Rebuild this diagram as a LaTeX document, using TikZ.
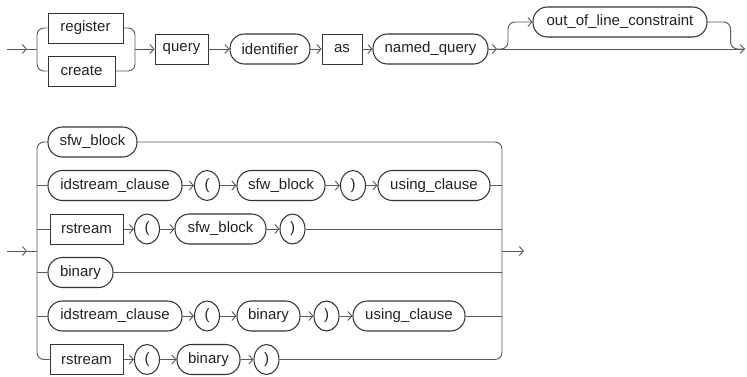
\documentclass[tikz,border=0pt]{standalone}
\usepackage{fontspec}
\setmainfont{Liberation Sans}
\usetikzlibrary{arrows.meta,shapes.geometric}
\definecolor{linegray}{HTML}{5A5A5A}
\definecolor{boxgray}{HTML}{333333}
\definecolor{txtgray}{HTML}{222222}
\begin{document}
\begin{tikzpicture}[x=1pt,y=-1pt,
  every node/.style={font=\fontsize{15}{18}\selectfont, text=txtgray},
  kw/.style={draw=boxgray, line width=0.95pt, rectangle, minimum height=30pt, inner sep=0pt},
  term/.style={draw=boxgray, line width=1.05pt, rectangle, rounded corners=14.5pt, minimum height=30pt, inner sep=0pt},
  paren/.style={draw=boxgray, line width=1.05pt, ellipse, minimum width=25pt, minimum height=30pt, inner sep=0pt},
  conn/.style={draw=linegray, line width=0.95pt},
  arr/.style={-{Straight Barb[length=4pt,width=9pt,line width=0.95pt]}},
  curvy/.style={rounded corners=7pt}]
\useasboundingbox (0,0) rectangle (747,377);

% ---------- top diagram ----------
\coordinate (s1) at (7,49);
\coordinate (a1) at (27,49);
\coordinate (lb1) at (37,49);
\coordinate (rb1) at (135,49);
\coordinate (f1) at (497,49);
\coordinate (e1) at (745,49);

\node[kw, minimum width=75pt] (register) at (85.5,28) {register};
\node[kw, minimum width=67pt] (create) at (81.5,71) {create};
\node[kw, minimum width=53pt] (query) at (181.5,49) {query};
\node[term, minimum width=80pt] (identifier) at (270,49) {identifier};
\node[kw, minimum width=40pt] (as) at (342,49) {as};
\node[term, minimum width=115pt] (namedq) at (430.5,49) {named\_query};
\node[term, minimum width=174pt] (ool) at (620,22) {out\_of\_line\_constraint};

\draw[conn, arr] (s1) -- (a1);
\draw[conn] (a1) -- (lb1);
\draw[conn, curvy] (lb1) |- (register.west);
\draw[conn, curvy] (lb1) |- (create.west);
\draw[conn, curvy] (register.east) -| (rb1);
\draw[conn, curvy] (create.east) -| (rb1);
\draw[conn, arr] (rb1) -- (query.west);
\draw[conn, arr] (query.east) -- (identifier.west);
\draw[conn, arr] (identifier.east) -- (as.west);
\draw[conn, arr] (as.east) -- (namedq.west);
\draw[conn, arr] (namedq.east) -- (f1);
\draw[conn, arr] (f1) -- (e1);
\draw[conn, arr, curvy] (f1) -- ++(11,0) |- (ool.west);
\draw[conn, curvy] (ool.east) -- ++(23,0) |- (e1);

% ---------- bottom diagram ----------
\coordinate (s2) at (7,251);
\coordinate (a2) at (27,251);
\coordinate (lb2) at (37,251);
\coordinate (rb2) at (502,251);
\coordinate (e2) at (524,251);

% row 1
\node[term, minimum width=89pt] (sfw1) at (92.5,142) {sfw\_block};
% row 2
\node[term, minimum width=134pt] (idc1) at (115,185.5) {idstream\_clause};
\node[paren] (lp1) at (207,185.5) {(};
\node[term, minimum width=88pt] (sfw2) at (281,185.5) {sfw\_block};
\node[paren] (rp1) at (353,185.5) {)};
\node[term, minimum width=112pt] (uc1) at (434,185.5) {using\_clause};
% row 3
\node[kw, minimum width=73pt] (rs1) at (86.5,229) {rstream};
\node[paren] (lp2) at (147,229) {(};
\node[term, minimum width=91pt] (sfw3) at (220.5,229) {sfw\_block};
\node[paren] (rp2) at (292.5,229) {)};
% row 4
\node[term, minimum width=65pt] (bin1) at (80.5,272.5) {binary};
% row 5
\node[term, minimum width=134pt] (idc2) at (115,316) {idstream\_clause};
\node[paren] (lp3) at (207,316) {(};
\node[term, minimum width=63pt] (bin2) at (268.5,316) {binary};
\node[paren] (rp3) at (326.5,316) {)};
\node[term, minimum width=112pt] (uc2) at (409,316) {using\_clause};
% row 6
\node[kw, minimum width=73pt] (rs2) at (86.5,359.5) {rstream};
\node[paren] (lp4) at (147,359.5) {(};
\node[term, minimum width=63pt] (bin3) at (208.5,359.5) {binary};
\node[paren] (rp4) at (266.5,359.5) {)};

\draw[conn, arr] (s2) -- (a2);
\draw[conn] (a2) -- (lb2);
\draw[conn, curvy] (lb2) |- (sfw1.west);
\draw[conn, curvy] (lb2) |- (rs2.west);
\draw[conn] (idc1.west -| lb2) -- (idc1.west);
\draw[conn] (rs1.west -| lb2) -- (rs1.west);
\draw[conn] (bin1.west -| lb2) -- (bin1.west);
\draw[conn] (idc2.west -| lb2) -- (idc2.west);

\draw[conn, arr] (idc1.east) -- (lp1.west);
\draw[conn, arr] (lp1.east) -- (sfw2.west);
\draw[conn, arr] (sfw2.east) -- (rp1.west);
\draw[conn, arr] (rp1.east) -- (uc1.west);

\draw[conn, arr] (rs1.east) -- (lp2.west);
\draw[conn, arr] (lp2.east) -- (sfw3.west);
\draw[conn, arr] (sfw3.east) -- (rp2.west);

\draw[conn, arr] (idc2.east) -- (lp3.west);
\draw[conn, arr] (lp3.east) -- (bin2.west);
\draw[conn, arr] (bin2.east) -- (rp3.west);
\draw[conn, arr] (rp3.east) -- (uc2.west);

\draw[conn, arr] (rs2.east) -- (lp4.west);
\draw[conn, arr] (lp4.east) -- (bin3.west);
\draw[conn, arr] (bin3.east) -- (rp4.west);

\draw[conn, curvy] (sfw1.east) -| (rb2);
\draw[conn, curvy] (rp4.east) -| (rb2);
\draw[conn] (uc1.east) -- (uc1.east -| rb2);
\draw[conn] (rp2.east) -- (rp2.east -| rb2);
\draw[conn] (bin1.east) -- (bin1.east -| rb2);
\draw[conn] (uc2.east) -- (uc2.east -| rb2);
\draw[conn, arr] (rb2) -- (e2);
\end{tikzpicture}
\end{document}
